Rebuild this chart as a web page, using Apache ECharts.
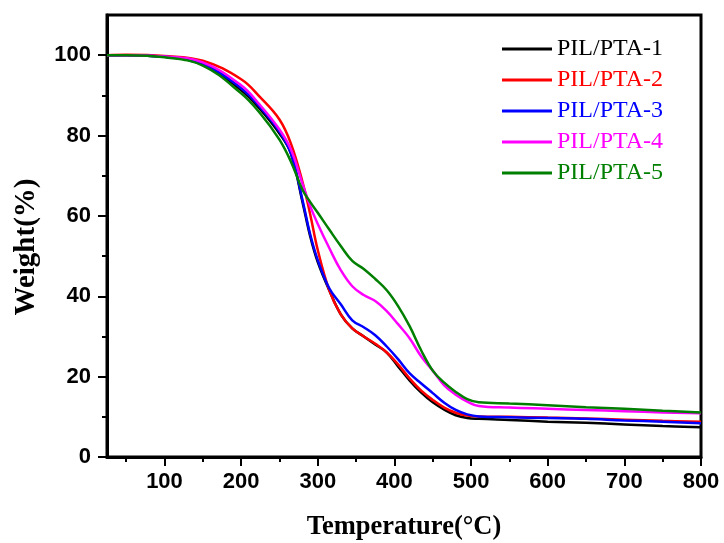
<!DOCTYPE html>
<html>
<head>
<meta charset="utf-8">
<script src="https://cdn.jsdelivr.net/npm/echarts@6/dist/echarts.min.js"></script>
<style>html,body{margin:0;padding:0;background:#fff}#c{width:724px;height:543px}</style>
</head>
<body>
<div id="c"></div>
<script>
const seriesNames = ['PIL/PTA-1', 'PIL/PTA-2', 'PIL/PTA-3', 'PIL/PTA-4', 'PIL/PTA-5'];
const seriesColors = ['#000000', '#ff0000', '#0000ff', '#ff00ff', '#007f00'];
const temps = [25, 50, 100, 150, 200, 225, 250, 265, 280, 290, 300, 315, 330, 345, 360, 375, 390, 405, 420, 435, 450, 465, 480, 495, 510, 550, 600, 650, 700, 750, 800];
const w1 = [100, 100, 99.6, 97.6, 91.3, 86.5, 80.5, 75.5, 63.5, 55, 48.5, 41.5, 35.5, 32, 30, 28, 26, 22.5, 19, 16, 13.6, 11.8, 10.4, 9.7, 9.5, 9.2, 8.8, 8.5, 8.1, 7.7, 7.4];
const w2 = [100, 100.1, 99.8, 98.6, 94, 89.5, 84, 78, 68.5, 60.5, 51.5, 41.5, 35.5, 32, 30, 28.2, 26, 23, 19.5, 16.5, 14.2, 12.3, 11, 10.3, 10.1, 10, 9.8, 9.6, 9.3, 9.0, 8.8];
const w3 = [100, 100, 99.6, 97.8, 91.8, 87, 81, 75.5, 64, 55.5, 49, 42, 38, 34, 32.3, 30.3, 27.5, 24.3, 20.8, 18.3, 15.9, 13.5, 11.7, 10.6, 10.1, 9.9, 9.7, 9.5, 9.1, 8.8, 8.4];
const w4 = [100, 100, 99.7, 98.2, 92.5, 87.5, 81.5, 76.5, 68, 62.5, 58, 52, 46.5, 42.5, 40.3, 38.8, 36.3, 33, 29.5, 25, 21.5, 17.8, 15.5, 13.8, 12.7, 12.3, 12, 11.7, 11.4, 11.1, 10.9];
const w5 = [100, 100, 99.5, 97.4, 90.5, 85.5, 79, 73.5, 66.5, 63.5, 60.8, 56.6, 52.5, 48.8, 46.8, 44.3, 41.5, 37.5, 32.5, 26.5, 21.5, 18.5, 16.2, 14.4, 13.6, 13.3, 12.9, 12.4, 12.0, 11.5, 11.1];
const weights = [w1, w2, w3, w4, w5];
const xMajor = [100, 200, 300, 400, 500, 600, 700, 800];
const xMinor = [50, 150, 250, 350, 450, 550, 650, 750];
const yMajor = [0, 20, 40, 60, 80, 100];
const yMinor = [10, 30, 50, 70, 90];

const chart = echarts.init(document.getElementById('c'), null, {renderer: 'canvas'});
const labelFont = {fontFamily: 'Liberation Sans, Arial, sans-serif', fontWeight: 'bold', fontSize: 22, color: '#000'};
const titleFontX = {fontFamily: 'Liberation Serif, Times New Roman, serif', fontWeight: 'bold', fontSize: 26.5, color: '#000'};
const titleFontY = {fontFamily: 'Liberation Serif, Times New Roman, serif', fontWeight: 'bold', fontSize: 29, color: '#000', padding: [0, 22, 0, 0]};
chart.setOption({
  animation: false,
  backgroundColor: '#fff',
  grid: {left: 107, right: 23, top: 15, bottom: 86, show: true, borderColor: '#000', borderWidth: 3, backgroundColor: 'transparent', containLabel: false, outerBoundsMode: 'none'},
  legend: {
    orient: 'vertical', left: 497, top: 32, itemWidth: 50, itemHeight: 3, itemGap: 7, icon: 'rect',
    textStyle: {fontFamily: 'Liberation Serif, Times New Roman, serif', fontSize: 24, lineHeight: 24},
    data: seriesNames.map((n, i) => ({name: n, textStyle: {color: seriesColors[i]}}))
  },
  xAxis: [{
    type: 'value', min: 25, max: 800,
    name: 'Temperature(°C)', nameLocation: 'middle', nameGap: 57, nameTextStyle: titleFontX,
    axisLine: {show: true, lineStyle: {color: '#000', width: 3}},
    axisTick: {show: true, length: 9, customValues: xMajor, lineStyle: {color: '#000', width: 2}},
    axisLabel: {show: true, margin: 14, customValues: xMajor, ...labelFont},
    splitLine: {show: false}
  }, {
    type: 'value', min: 25, max: 800, position: 'bottom',
    axisLine: {show: false},
    axisTick: {show: true, length: 5, customValues: xMinor, lineStyle: {color: '#000', width: 2}},
    axisLabel: {show: false},
    splitLine: {show: false}
  }],
  yAxis: [{
    type: 'value', min: 0, max: 110,
    name: 'Weight(%)', nameLocation: 'middle', nameGap: 66, nameRotate: 90, nameTextStyle: titleFontY,
    axisLine: {show: true, lineStyle: {color: '#000', width: 3}},
    axisTick: {show: true, length: 9, customValues: yMajor, lineStyle: {color: '#000', width: 2}},
    axisLabel: {show: true, margin: 16, customValues: yMajor, ...labelFont},
    splitLine: {show: false}
  }, {
    type: 'value', min: 0, max: 110, position: 'left',
    axisLine: {show: false},
    axisTick: {show: true, length: 5, customValues: yMinor, lineStyle: {color: '#000', width: 2}},
    axisLabel: {show: false},
    splitLine: {show: false}
  }],
  series: seriesNames.map((n, i) => ({
    name: n, type: 'line', smooth: 0.4, symbol: 'none', xAxisIndex: 0, yAxisIndex: 0,
    lineStyle: {color: seriesColors[i], width: 2.5}, itemStyle: {color: seriesColors[i]},
    data: temps.map((t, k) => [t, weights[i][k]])
  }))
});
</script>
</body>
</html>
